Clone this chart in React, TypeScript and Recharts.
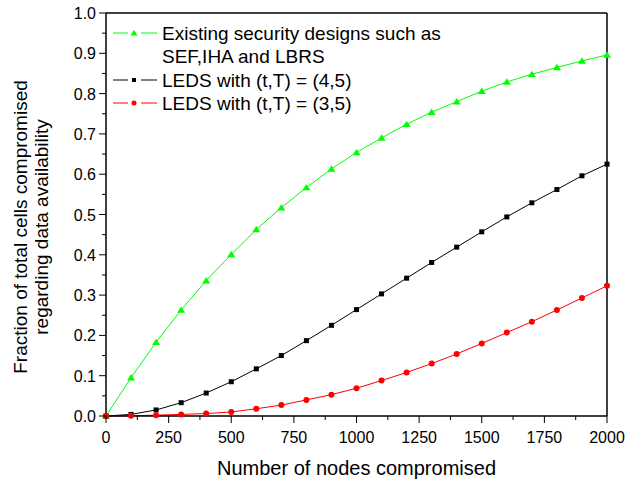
import React from 'react';
import { LineChart, Line, XAxis, YAxis, ReferenceLine, Legend } from 'recharts';

const nodes = [0, 100, 200, 300, 400, 500, 600, 700, 800, 900, 1000, 1100, 1200, 1300, 1400, 1500, 1600, 1700, 1800, 1900, 2000];
const existing = [0, 0.095, 0.183, 0.263, 0.336, 0.401, 0.463, 0.517, 0.567, 0.613, 0.654, 0.69, 0.724, 0.754, 0.78, 0.806, 0.829, 0.848, 0.865, 0.881, 0.896];
const leds45 = [0, 0.004, 0.015, 0.033, 0.057, 0.085, 0.117, 0.15, 0.187, 0.225, 0.264, 0.303, 0.342, 0.381, 0.419, 0.457, 0.494, 0.529, 0.562, 0.596, 0.625];
const leds35 = [0, 0.0005, 0.002, 0.004, 0.006, 0.01, 0.018, 0.027, 0.04, 0.053, 0.069, 0.088, 0.108, 0.13, 0.154, 0.18, 0.207, 0.234, 0.263, 0.293, 0.323];

const xTicks = [0, 125, 250, 375, 500, 625, 750, 875, 1000, 1125, 1250, 1375, 1500, 1625, 1750, 1875, 2000];
const yTicks = [0, 0.05, 0.1, 0.15, 0.2, 0.25, 0.3, 0.35, 0.4, 0.45, 0.5, 0.55, 0.6, 0.65, 0.7, 0.75, 0.8, 0.85, 0.9, 0.95, 1];

const data = nodes.map((n, i) => ({ n, existing: existing[i], leds45: leds45[i], leds35: leds35[i] }));

const FONT = '"Liberation Sans", Arial, Helvetica, sans-serif';
const GREEN = '#00ff00';
const RED = '#ff0000';

const Triangle = ({ cx, cy, s, fill }: any) => (
  <path d={`M${cx},${cy - s * 0.9} L${cx + s},${cy + s * 0.7} L${cx - s},${cy + s * 0.7} Z`} fill={fill} />
);
const Square = ({ cx, cy, s, fill }: any) => (
  <rect x={cx - s} y={cy - s} width={s * 2} height={s * 2} fill={fill} />
);
const Dot = ({ cx, cy, s, fill }: any) => <circle cx={cx} cy={cy} r={s} fill={fill} />;

const XTick = (props: any) => {
  const { x, y, payload } = props;
  const v = payload.value;
  const major = v % 250 === 0;
  return (
    <g>
      <line x1={x} x2={x} y1={y} y2={y + (major ? 7 : 4)} stroke="#000" />
      {major && (
        <text x={x} y={y + 27} textAnchor="middle" fontSize={16} fontFamily={FONT} fill="#000">
          {v}
        </text>
      )}
    </g>
  );
};

const YTick = (props: any) => {
  const { x, y, payload } = props;
  const v = payload.value;
  const major = Math.round(v * 100) % 10 === 0;
  return (
    <g>
      <line x1={x - (major ? 7 : 4)} x2={x} y1={y} y2={y} stroke="#000" />
      {major && (
        <text x={x - 10} y={y + 6} textAnchor="end" fontSize={16} fontFamily={FONT} fill="#000">
          {v.toFixed(1)}
        </text>
      )}
    </g>
  );
};

const YLabel = () => (
  <g fontFamily={FONT} fontSize={19} fill="#000">
    <text x={27} y={227} textAnchor="middle" transform="rotate(-90, 27, 227)">
      Fraction of total cells compromised
    </text>
    <text x={48} y={227} textAnchor="middle" transform="rotate(-90, 48, 227)">
      regarding data availability
    </text>
  </g>
);

const XLabel = (props: any) => {
  const { viewBox } = props;
  const cx = viewBox.x + viewBox.width / 2;
  return (
    <text x={cx} y={475} textAnchor="middle" fontFamily={FONT} fontSize={20} fill="#000">
      Number of nodes compromised
    </text>
  );
};

const LegendBox = () => (
  <svg width={600} height={120} style={{ display: 'block' }}>
    <g fontFamily={FONT} fontSize={19} fill="#000">
      <line x1={113} x2={128} y1={33} y2={33} stroke={GREEN} />
      <line x1={141} x2={157} y1={33} y2={33} stroke={GREEN} />
      <Triangle cx={134} cy={33} s={3.5} fill={GREEN} />
      <text x={162} y={40}>Existing security designs such as</text>
      <text x={162} y={63}>SEF,IHA and LBRS</text>

      <line x1={113} x2={128} y1={80} y2={80} stroke="#000" />
      <line x1={141} x2={157} y1={80} y2={80} stroke="#000" />
      <Square cx={134} cy={80} s={2} fill="#000" />
      <text x={162} y={87}>LEDS with (t,T) = (4,5)</text>

      <line x1={113} x2={128} y1={103} y2={103} stroke={RED} />
      <line x1={141} x2={157} y1={103} y2={103} stroke={RED} />
      <Dot cx={134} cy={103} s={2.5} fill={RED} />
      <text x={162} y={110}>LEDS with (t,T) = (3,5)</text>
    </g>
  </svg>
);

export default function App() {
  return (
    <div style={{ position: 'absolute', left: 0, top: 0, background: '#fff' }}>
      <LineChart width={625} height={482} data={data} margin={{ top: 13, right: 18, left: 0, bottom: 0 }}>
        <XAxis
          dataKey="n"
          type="number"
          domain={[0, 2000]}
          ticks={xTicks}
          interval={0}
          height={66}
          tickSize={0}
          tickMargin={0}
          tickLine={false}
          tick={<XTick />}
          axisLine={{ stroke: '#000', strokeWidth: 1.5 }}
          label={<XLabel />}
        />
        <YAxis
          type="number"
          domain={[0, 1]}
          ticks={yTicks}
          interval={0}
          width={106}
          tickSize={0}
          tickMargin={0}
          tickLine={false}
          tick={<YTick />}
          axisLine={{ stroke: '#000', strokeWidth: 1.5 }}
          label={<YLabel />}
        />
        <ReferenceLine y={1} stroke="#000" strokeWidth={1.5} />
        <ReferenceLine x={2000} stroke="#000" strokeWidth={1.5} />
        <Legend
          layout="vertical"
          align="center"
          verticalAlign="middle"
          wrapperStyle={{ left: 0, top: 0, width: 600, height: 120 }}
          content={() => <LegendBox />}
        />
        <Line
          type="linear"
          dataKey="existing"
          stroke={GREEN}
          strokeWidth={1}
          isAnimationActive={false}
          dot={(p: any) => <Triangle key={p.index} cx={p.cx} cy={p.cy} s={4} fill={GREEN} />}
        />
        <Line
          type="linear"
          dataKey="leds45"
          stroke="#000"
          strokeWidth={1}
          isAnimationActive={false}
          dot={(p: any) => <Square key={p.index} cx={p.cx} cy={p.cy} s={2.5} fill="#000" />}
        />
        <Line
          type="linear"
          dataKey="leds35"
          stroke={RED}
          strokeWidth={1}
          isAnimationActive={false}
          dot={(p: any) => <Dot key={p.index} cx={p.cx} cy={p.cy} s={3} fill={RED} />}
        />
      </LineChart>
    </div>
  );
}
